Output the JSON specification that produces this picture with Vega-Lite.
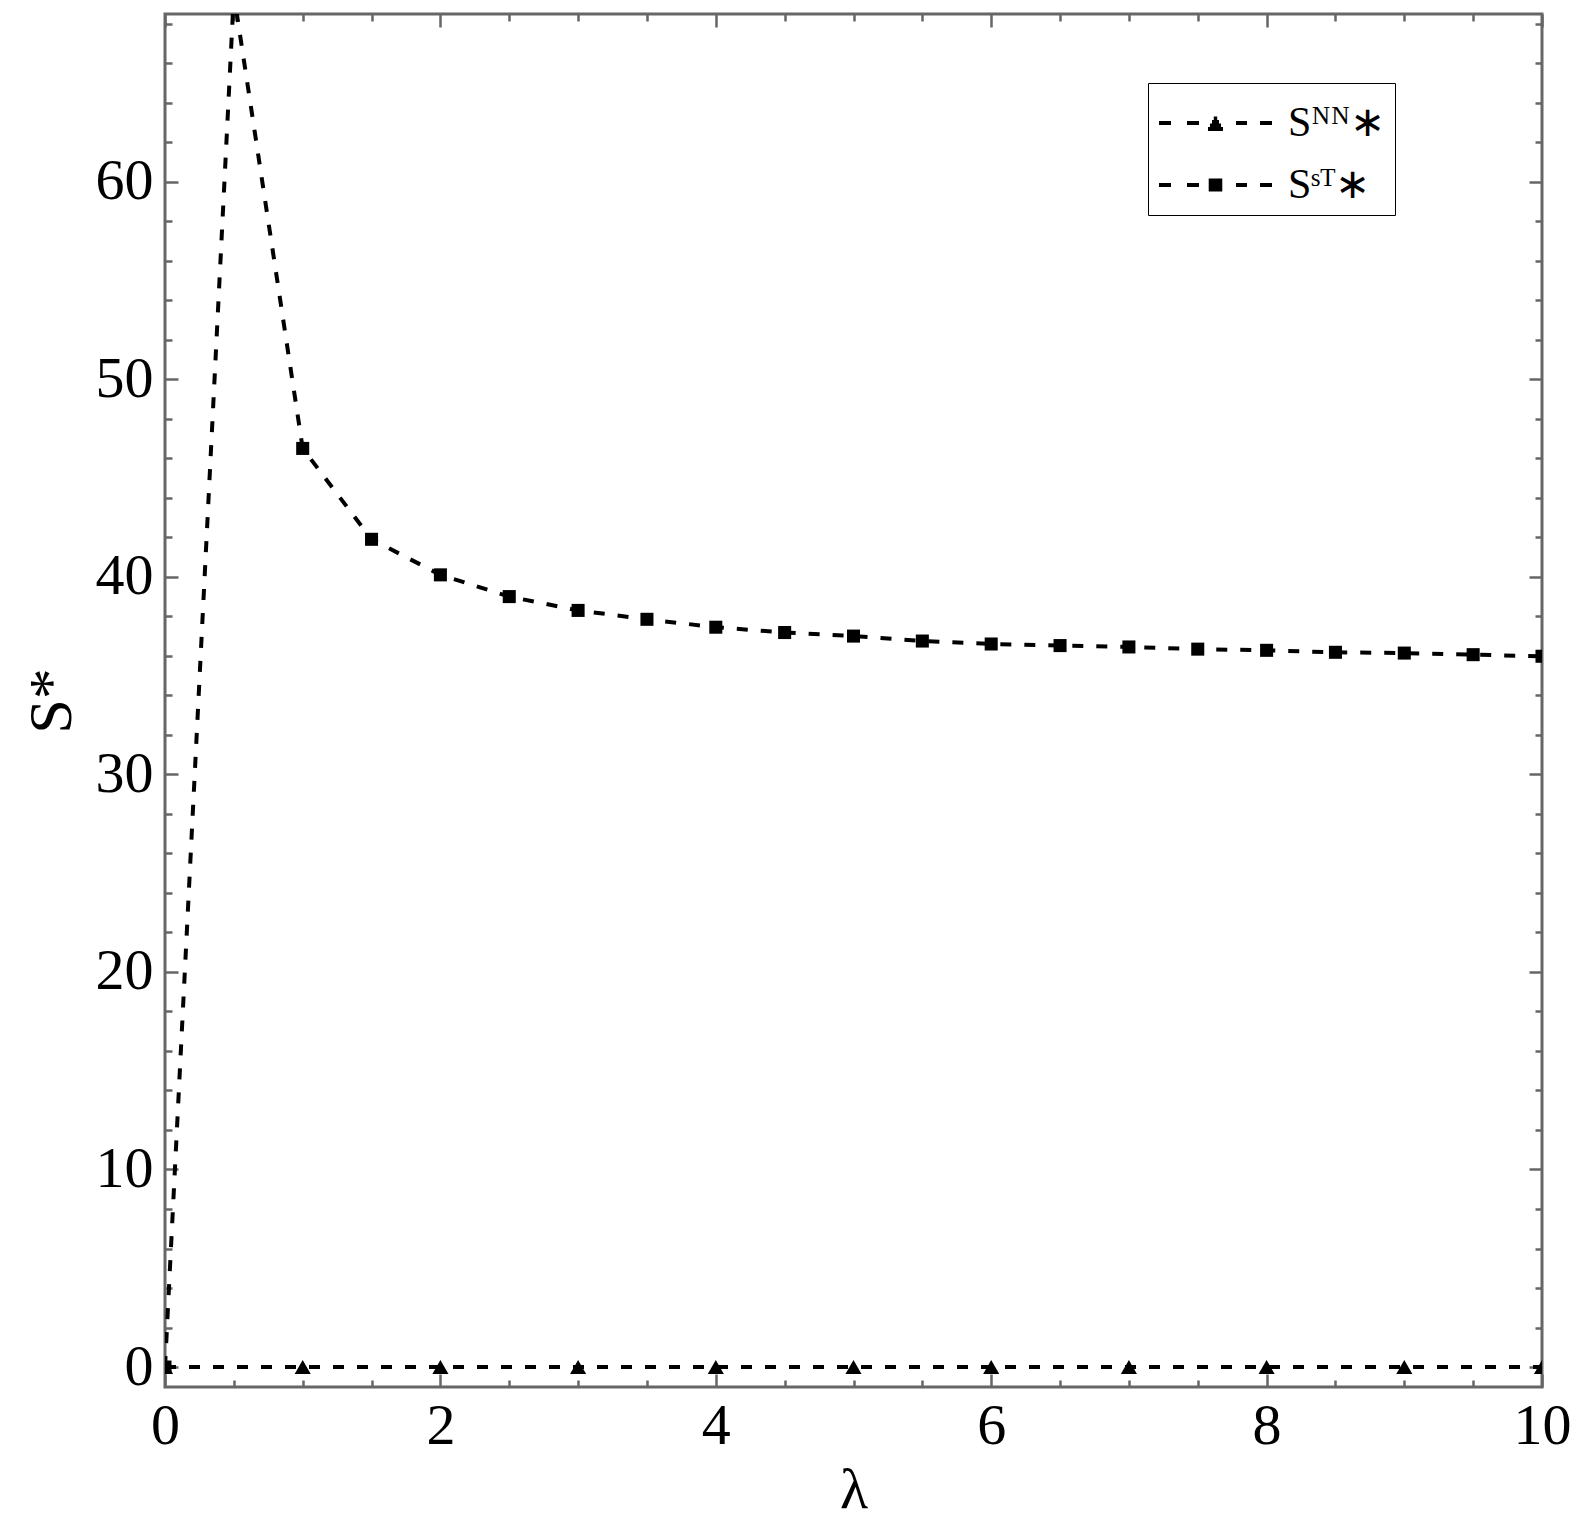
{
  "$schema": "https://vega.github.io/schema/vega-lite/v6.json",
  "width": 1377,
  "height": 1373,
  "autosize": {"type": "none"},
  "padding": {"left": 165, "top": 14, "right": 51, "bottom": 135},
  "background": "white",
  "config": {
    "view": {"stroke": "#666", "strokeWidth": 3},
    "axis": {
      "grid": false, "domain": false,
      "labelFont": "Liberation Serif", "titleFont": "Liberation Serif",
      "labelColor": "black", "titleColor": "black", "titleFontWeight": "normal",
      "labelFlush": false, "labelOverlap": false,
      "tickColor": "#666", "tickWidth": 2.5
    }
  },
  "datasets": {
    "st": [
      {"lam": 0, "S": 0, "series": "ST"},
      {"lam": 0.5, "S": 69.5, "series": "ST"},
      {"lam": 1, "S": 46.5, "series": "ST"},
      {"lam": 1.5, "S": 41.9, "series": "ST"},
      {"lam": 2, "S": 40.1, "series": "ST"},
      {"lam": 2.5, "S": 39.0, "series": "ST"},
      {"lam": 3, "S": 38.3, "series": "ST"},
      {"lam": 3.5, "S": 37.85, "series": "ST"},
      {"lam": 4, "S": 37.45, "series": "ST"},
      {"lam": 4.5, "S": 37.18, "series": "ST"},
      {"lam": 5, "S": 37.0, "series": "ST"},
      {"lam": 5.5, "S": 36.75, "series": "ST"},
      {"lam": 6, "S": 36.6, "series": "ST"},
      {"lam": 6.5, "S": 36.52, "series": "ST"},
      {"lam": 7, "S": 36.45, "series": "ST"},
      {"lam": 7.5, "S": 36.34, "series": "ST"},
      {"lam": 8, "S": 36.28, "series": "ST"},
      {"lam": 8.5, "S": 36.18, "series": "ST"},
      {"lam": 9, "S": 36.14, "series": "ST"},
      {"lam": 9.5, "S": 36.06, "series": "ST"},
      {"lam": 10, "S": 35.98, "series": "ST"}
    ],
    "nn": [
      {"lam": 0, "S": 0, "series": "NN"},
      {"lam": 1, "S": 0, "series": "NN"},
      {"lam": 2, "S": 0, "series": "NN"},
      {"lam": 3, "S": 0, "series": "NN"},
      {"lam": 4, "S": 0, "series": "NN"},
      {"lam": 5, "S": 0, "series": "NN"},
      {"lam": 6, "S": 0, "series": "NN"},
      {"lam": 7, "S": 0, "series": "NN"},
      {"lam": 8, "S": 0, "series": "NN"},
      {"lam": 9, "S": 0, "series": "NN"},
      {"lam": 10, "S": 0, "series": "NN"}
    ]
  },
  "layer": [
    {
      "data": {"name": "st"},
      "mark": {"type": "line", "color": "black", "strokeWidth": 4, "strokeDash": [11, 13], "clip": true},
      "encoding": {
        "x": {"field": "lam", "type": "quantitative", "scale": {"domain": [0, 10], "nice": false},
          "axis": {"orient": "bottom", "values": [0, 2, 4, 6, 8, 10], "ticks": false, "labelFontSize": 58, "labelPadding": 10, "format": "d",
            "title": "λ", "titleFontSize": 58, "titlePadding": 6}},
        "y": {"field": "S", "type": "quantitative", "scale": {"domain": [-1.01, 68.49], "nice": false, "zero": false},
          "axis": {"orient": "left", "values": [0, 10, 20, 30, 40, 50, 60], "ticks": false, "labelFontSize": 58, "labelPadding": 12, "format": "d",
            "title": "S*", "titleFontSize": 62, "titlePadding": 25, "titleBaseline": "alphabetic"}}
      }
    },
    {
      "data": {"name": "nn"},
      "mark": {"type": "line", "color": "black", "strokeWidth": 4, "strokeDash": [11, 13], "clip": true},
      "encoding": {
        "x": {"field": "lam", "type": "quantitative", "scale": {"domain": [0, 10], "nice": false},
          "axis": {"orient": "bottom", "values": [0, 2, 4, 6, 8, 10], "labels": false, "tickSize": -13, "title": null}},
        "y": {"field": "S", "type": "quantitative", "scale": {"domain": [-1.01, 68.49], "nice": false, "zero": false},
          "axis": {"orient": "left", "values": [0, 10, 20, 30, 40, 50, 60], "labels": false, "tickSize": -13, "title": null}}
      }
    },
    {
      "data": {"name": "st"},
      "mark": {"type": "point", "filled": false, "opacity": 1, "color": "black", "size": 0, "strokeWidth": 4, "clip": true},
      "encoding": {
        "x": {"field": "lam", "type": "quantitative", "scale": {"domain": [0, 10], "nice": false},
          "axis": {"orient": "bottom", "values": [0.5, 1, 1.5, 2.5, 3, 3.5, 4.5, 5, 5.5, 6.5, 7, 7.5, 8.5, 9, 9.5], "labels": false, "tickSize": -7, "title": null}},
        "y": {"field": "S", "type": "quantitative", "scale": {"domain": [-1.01, 68.49], "nice": false, "zero": false},
          "axis": {"orient": "left", "values": [2, 4, 6, 8, 12, 14, 16, 18, 22, 24, 26, 28, 32, 34, 36, 38, 42, 44, 46, 48, 52, 54, 56, 58, 62, 64, 66, 68], "labels": false, "tickSize": -7, "title": null}},
        "shape": {"field": "series", "type": "nominal",
          "scale": {"domain": ["NN", "ST"], "range": [
            "M-1,0H-0.586M-0.034,0H0.379M1.655,0H2.034M2.483,0H2.897M0.689,0.207H1.207M0.758,0.086H1.138M0.827,-0.034H1.069M0.889,-0.155H1.007",
            "M-1,0H-0.586M-0.034,0H0.379M1.655,0H2.034M2.483,0H2.897M0.714,-0.155H1.182M0.714,-0.052H1.182M0.714,0.052H1.182M0.714,0.155H1.182"
          ]},
          "legend": {
            "title": null,
            "orient": "none", "legendX": 983, "legendY": 69,
            "padding": 9,
            "strokeColor": "black",
            "fillColor": "white",
            "labelFont": "Liberation Serif", "labelFontSize": 42, "labelColor": "black",
            "labelOffset": 69,
            "symbolSize": 3364,
            "symbolStrokeColor": "black",
            "symbolStrokeWidth": 4,
            "symbolOpacity": 1,
            "rowPadding": 10,
            "labelExpr": "datum.value === 'NN' ? 'Sᴺᴺ∗' : 'Sˢᵀ∗'",
            "encode": {
              "legend": {"strokeWidth": {"value": 3}}
            }
          }}
      }
    },
    {
      "data": {"name": "nn"},
      "mark": {"type": "point", "filled": true, "opacity": 1, "color": "black", "shape": "triangle-up", "size": 260, "clip": true},
      "encoding": {
        "x": {"field": "lam", "type": "quantitative", "scale": {"domain": [0, 10], "nice": false},
          "axis": {"orient": "top", "values": [0, 2, 4, 6, 8, 10], "labels": false, "tickSize": -13, "title": null}},
        "y": {"field": "S", "type": "quantitative", "scale": {"domain": [-1.01, 68.49], "nice": false, "zero": false},
          "axis": {"orient": "right", "values": [0, 10, 20, 30, 40, 50, 60], "labels": false, "tickSize": -13, "title": null}}
      }
    },
    {
      "data": {"name": "st"},
      "mark": {"type": "point", "filled": true, "opacity": 1, "color": "black", "shape": "square", "size": 170, "clip": true},
      "encoding": {
        "x": {"field": "lam", "type": "quantitative", "scale": {"domain": [0, 10], "nice": false},
          "axis": {"orient": "top", "values": [0.5, 1, 1.5, 2.5, 3, 3.5, 4.5, 5, 5.5, 6.5, 7, 7.5, 8.5, 9, 9.5], "labels": false, "tickSize": -7, "title": null}},
        "y": {"field": "S", "type": "quantitative", "scale": {"domain": [-1.01, 68.49], "nice": false, "zero": false},
          "axis": {"orient": "right", "values": [2, 4, 6, 8, 12, 14, 16, 18, 22, 24, 26, 28, 32, 34, 36, 38, 42, 44, 46, 48, 52, 54, 56, 58, 62, 64, 66, 68], "labels": false, "tickSize": -7, "title": null}}
      }
    }
  ],
  "resolve": {"axis": {"x": "independent", "y": "independent"}}
}
